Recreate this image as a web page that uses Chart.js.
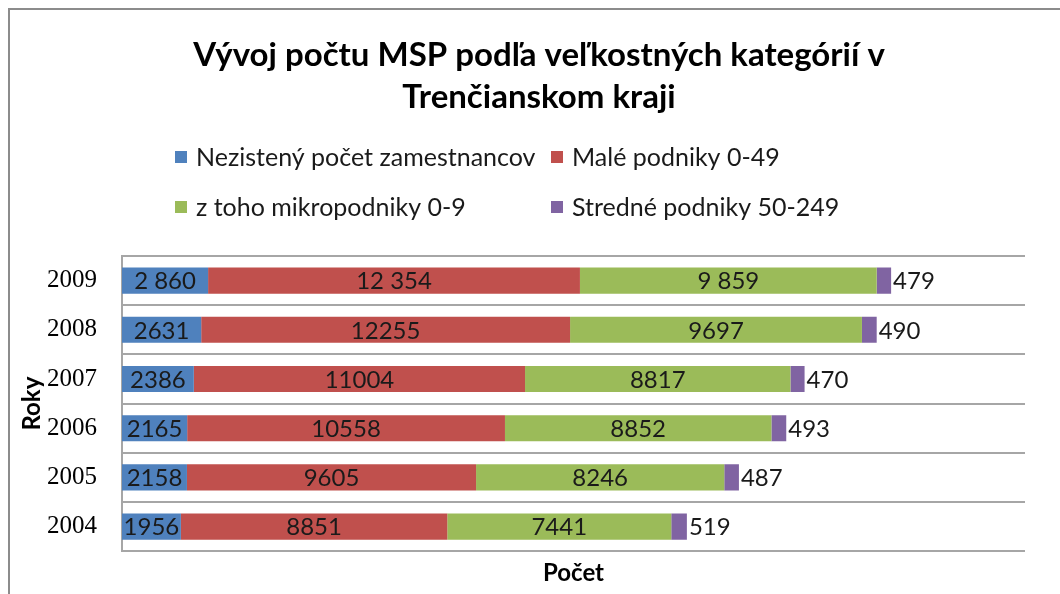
<!DOCTYPE html>
<html>
<head>
<meta charset="utf-8">
<script src="https://cdn.jsdelivr.net/npm/chart.js@4.4.0/dist/chart.umd.min.js"></script>
<style>
    html, body { margin: 0; padding: 0; background: #fff; }
    #wrap { width: 1060px; height: 594px; position: relative; }
</style>
</head>
<body>
<div id="wrap"><canvas id="msp-chart"></canvas></div>
<script>
const titleLines = ['Vývoj počtu MSP podľa veľkostných kategórií v', 'Trenčianskom kraji'];
const years = ['2009', '2008', '2007', '2006', '2005', '2004'];
const seriesNames = ['Nezistený počet zamestnancov', 'Malé podniky 0-49', 'z toho mikropodniky 0-9', 'Stredné podniky 50-249'];
const nezisteny = [2860, 2631, 2386, 2165, 2158, 1956];
const male = [12354, 12255, 11004, 10558, 9605, 8851];
const mikro = [9859, 9697, 8817, 8852, 8246, 7441];
const stredne = [479, 490, 470, 493, 487, 519];
const colors = ['#4F81BD', '#C0504D', '#9BBB59', '#8064A2'];
const spacedYear = '2009'; // only this row is printed with a thousands space

function fmt(v, year) {
    let s = String(v);
    if (year === spacedYear && v >= 1000) {
        s = s.slice(0, s.length - 3) + ' ' + s.slice(-3);
    }
    return s;
}

// outer frame, title and the two-column legend
const headerPlugin = {
    id: 'header',
    beforeDraw(chart) {
        let ctx = chart.ctx;
        ctx.save();
        ctx.strokeStyle = '#8c8c8c';
        ctx.lineWidth = 2;
        ctx.beginPath();
        ctx.moveTo(9, 700);
        ctx.lineTo(9, 9);
        ctx.lineTo(1100, 9);
        ctx.stroke();
        ctx.restore();
    },
    afterDraw(chart) {
        let ctx = chart.ctx;
        ctx.save();
        ctx.fillStyle = '#000';
        ctx.textAlign = 'center';
        ctx.textBaseline = 'middle';
        ctx.font = 'bold 33px Lato';
        ctx.fillText(titleLines[0], 539, 55);
        ctx.fillText(titleLines[1], 539, 97);

        ctx.font = '25px Lato';
        ctx.textAlign = 'left';
        let cols = [175, 551];
        let rows = [157, 207];
        chart.data.datasets.forEach(function (ds, i) {
            let x = cols[i % 2];
            let y = rows[Math.floor(i / 2)];
            ctx.fillStyle = ds.backgroundColor;
            ctx.fillRect(x, y - 6, 12, 12);
            ctx.fillStyle = '#1a1a1a';
            ctx.fillText(ds.label, x + 21, y + 1);
        });
        ctx.restore();
    }
};

// value labels: centered in the segment, last series to the right of the bar
const valueLabels = {
    id: 'valueLabels',
    afterDatasetsDraw(chart) {
        let ctx = chart.ctx;
        ctx.save();
        ctx.font = '24px Lato';
        ctx.fillStyle = '#1a1a1a';
        ctx.textBaseline = 'middle';
        let last = chart.data.datasets.length - 1;
        chart.data.datasets.forEach(function (ds, i) {
            let meta = chart.getDatasetMeta(i);
            meta.data.forEach(function (bar, j) {
                let txt = fmt(ds.data[j], years[j]);
                if (i === last) {
                    ctx.textAlign = 'left';
                    ctx.fillText(txt, bar.x + 2, bar.y + 1);
                } else {
                    ctx.textAlign = 'center';
                    ctx.fillText(txt, (bar.x + bar.base) / 2, bar.y + 1);
                }
            });
        });
        ctx.restore();
    }
};

let seriesData = [nezisteny, male, mikro, stredne];

let ctx = document.getElementById('msp-chart').getContext('2d');
let mspChart = new Chart(ctx, {
    type: 'bar',
    data: {
        labels: years,
        datasets: seriesData.map(function (d, i) {
            return {
                label: seriesNames[i],
                data: d,
                backgroundColor: colors[i],
                borderWidth: 0,
                barPercentage: 0.53,
                categoryPercentage: 1,
            };
        }),
    },
    options: {
        indexAxis: 'y',
        responsive: true,
        maintainAspectRatio: false,
        animation: false,
        layout: {
            padding: { top: 256, left: 18, right: 35, bottom: 0 },
        },
        plugins: {
            legend: { display: false },
            title: { display: false },
            tooltip: { enabled: false },
        },
        scales: {
            x: {
                stacked: true,
                min: 0,
                max: 30000,
                grid: { display: false },
                border: { display: false },
                ticks: { display: false },
                title: {
                    display: true,
                    text: 'Počet',
                    color: '#000',
                    font: { family: 'Lato', size: 24, weight: 'bold' },
                    padding: { top: 0, bottom: 6 },
                },
            },
            y: {
                stacked: true,
                grid: { color: '#a6a6a6', lineWidth: 2, drawTicks: false },
                border: { display: true, color: '#a6a6a6', width: 2 },
                ticks: {
                    color: '#000',
                    padding: 25,
                    font: { family: 'Liberation Serif', size: 25 },
                },
                title: {
                    display: true,
                    text: 'Roky',
                    color: '#000',
                    font: { family: 'Lato', size: 24, weight: 'bold' },
                    padding: { top: 0, bottom: 0 },
                },
                afterFit(scale) {
                    scale.width = 104;
                },
            },
        },
    },
    plugins: [headerPlugin, valueLabels],
});
</script>
</body>
</html>
